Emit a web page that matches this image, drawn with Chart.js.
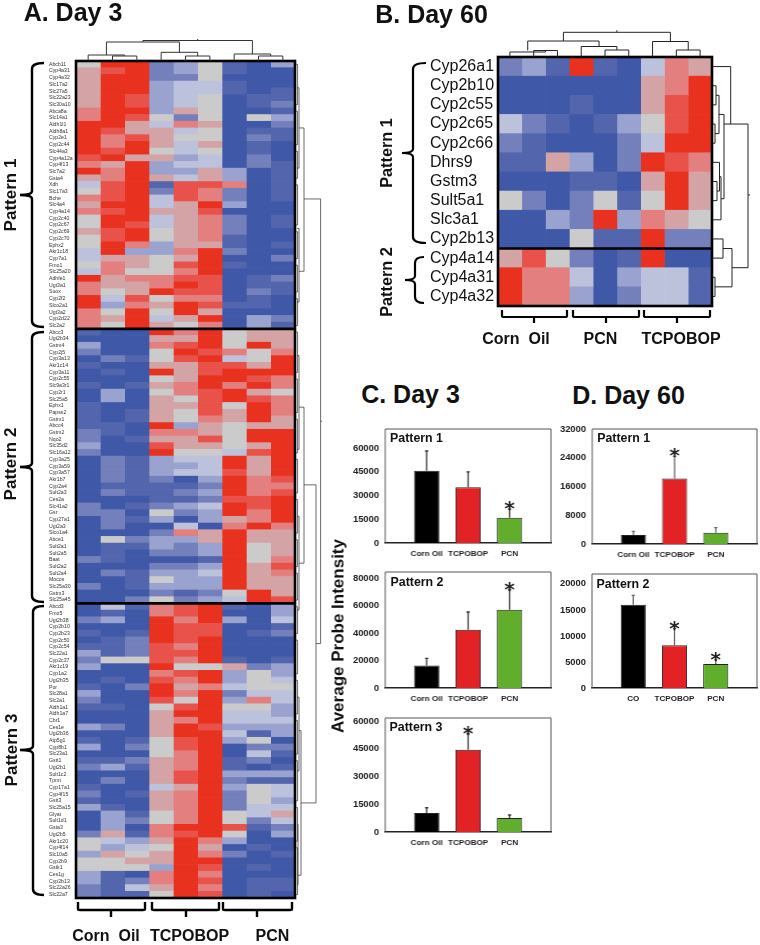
<!DOCTYPE html>
<html><head><meta charset="utf-8">
<script src="https://cdn.jsdelivr.net/npm/chart.js@4"></script>
<style>
html,body{margin:0;padding:0;background:#fff;width:760px;height:945px;overflow:hidden}
canvas{position:absolute;filter:blur(.35px)}
.t{position:absolute;font:bold 16px "Liberation Sans",Arial,sans-serif;color:#111;white-space:nowrap;line-height:1}
</style></head><body>
<script>
// ---------- Panel A data (colour level 0 = deep blue … 5 = grey … 9 = red) ----------
const genesA1=["Abcb11","Cyp4a31","Cyp4a32","Slc17a2","Slc27a5","Slc22a23","Slc30a10","Abca8a","Slc14a1","Aldh1l1","Aldh8a1","Cyp2e1","Cyp2c44","Slc44a3","Cyp4a12a","Cyp4f13","Slc7a2","Gsta4","Xdh","Slc17a3","Bche","Slc4a4","Cyp4a14","Cyp2c40","Cyp2c67","Cyp2c69","Cyp2c70","Ephx2","Akr1c18","Cyp7a1","Fmo1","Slc25a20","Adhfe1","Ugt3a1","Suox","Cyp2f2","Slco2a1","Ugt3a2","Cyp2d22","Slc2a2"];
const genesA2=["Abcc3","Ugt2b34","Gstm4","Cyp2j5","Cyp3a13","Akr1c14","Cyp3a11","Cyp2c55","Slc9a3r1","Cyp2r1","Slc25a5","Ephx1","Papss2","Gstm1","Abcc4","Gstm2","Nqo2","Slc35d2","Slc16a12","Cyp3a25","Cyp3a59","Cyp3a57","Akr1b7","Cyp2a4","Sult2a3","Ces2a","Slc41a2","Gsr","Cyp27a1","Ugt2a3","Slco1a4","Abce1","Sult2a1","Sult2a5","Baat","Sult2a2","Sult2a4","Mocos","Slc25a30","Gstm3","Slc25a45"];
const genesA3=["Abcd3","Fmo5","Ugt2b38","Cyp2b10","Cyp2b23","Cyp2c50","Cyp2c54","Slc22a1","Cyp2c37","Akr1c19","Cyp1a2","Ugt2b35","Por","Slc28a1","Slc2a1","Aldh1a1","Aldh1a7","Cbr1","Ces1e","Ugt2b36","Atp5g1","Cyp8b1","Slc23a1","Gstt1","Ugt2b1","Sult1c2","Tpmt","Cyp17a1","Cyp4f15","Gstt3","Slc25a15","Glyat","Sult1d1","Gsta3","Ugt2b5","Akr1c20","Cyp4f14","Slc10a5","Cyp2b9","Gstk1","Ces1g","Cyp2b13","Slc22a26","Slc22a7"];
const levelsA1=[[5,9,9,2,3,5,1,0,3],[6,8,9,2,3,5,1,0,0],[6,9,9,2,2,5,0,0,0],[6,9,9,3,4,4,1,0,0],[6,9,9,3,4,4,1,0,1],[6,9,8,3,4,5,0,1,1],[6,9,8,3,4,5,0,1,2],[7,9,9,3,6,5,0,0,1],[7,9,8,5,2,5,0,5,3],[9,9,6,4,7,6,0,0,2],[9,8,6,6,4,5,0,1,1],[9,7,8,6,5,5,0,2,1],[9,7,9,6,4,6,0,1,0],[9,8,9,5,4,5,0,1,0],[8,9,6,6,3,4,0,2,0],[7,6,9,3,4,4,0,2,1],[9,7,9,3,3,6,3,0,1],[6,7,9,6,4,6,3,0,1],[4,8,9,1,8,8,7,0,1],[5,8,9,2,8,7,2,0,1],[7,8,9,4,8,7,2,0,1],[6,9,9,4,6,9,3,0,0],[7,8,9,6,6,8,0,0,0],[5,9,9,4,6,7,2,0,1],[5,9,8,4,6,7,2,0,1],[6,8,9,5,6,7,2,0,0],[5,8,9,5,6,7,1,0,0],[5,9,7,3,6,6,1,0,1],[4,9,3,3,7,9,2,0,0],[4,6,6,5,6,9,0,0,2],[5,7,6,5,8,9,1,0,0],[4,7,5,5,7,9,0,0,0],[9,6,7,7,8,8,0,1,2],[7,6,6,7,9,8,0,1,1],[7,5,6,9,8,8,0,2,1],[9,4,8,5,7,7,0,1,0],[9,3,7,6,9,8,1,1,0],[7,5,9,5,9,6,0,0,0],[7,6,9,4,6,9,0,3,2],[7,5,9,6,5,7,0,3,1]];
const levelsA2=[[1,0,0,9,7,9,5,6,6],[0,0,0,6,6,9,5,6,6],[3,0,0,7,8,9,5,9,6],[2,0,0,5,9,8,7,5,7],[0,2,1,5,8,9,4,5,9],[1,0,0,6,6,8,8,6,9],[0,1,0,9,6,8,9,9,9],[0,0,0,5,6,9,9,8,7],[1,0,1,6,7,9,7,9,7],[0,3,0,5,7,8,9,6,5],[0,3,0,6,5,8,9,8,7],[1,0,0,6,6,8,5,9,7],[1,0,1,6,5,8,6,9,7],[1,0,1,6,5,7,6,9,6],[1,1,0,9,3,6,5,6,6],[2,1,0,7,7,6,5,9,9],[2,0,1,6,6,8,5,9,9],[3,0,0,8,6,6,5,6,9],[2,0,0,9,5,5,4,8,9],[0,2,1,3,4,4,9,6,9],[0,2,1,3,3,4,9,6,9],[0,2,1,3,4,4,8,6,9],[0,2,1,2,0,3,9,7,8],[0,1,1,1,1,2,9,7,7],[0,2,1,1,2,3,9,7,8],[0,0,0,1,1,2,8,8,9],[2,0,1,2,3,4,9,8,9],[2,2,0,5,2,3,9,7,9],[0,2,1,3,0,3,6,7,9],[0,2,0,0,4,0,7,9,7],[0,0,0,2,7,6,9,6,6],[0,5,2,3,3,6,9,6,6],[0,1,1,3,2,3,9,5,6],[0,1,0,2,2,3,9,5,6],[2,1,0,0,0,1,9,5,7],[0,0,0,2,2,3,9,6,8],[0,2,1,3,3,4,9,6,7],[0,0,1,5,3,3,9,6,6],[2,0,1,3,3,3,9,6,6],[0,0,0,2,1,2,5,9,6],[0,0,2,5,2,3,4,9,8]];
const levelsA3=[[0,4,1,7,8,9,1,0,3],[0,1,0,7,8,9,0,0,3],[2,3,0,9,7,9,3,0,4],[0,0,0,9,8,8,0,0,1],[1,0,1,9,8,8,0,1,2],[0,1,2,9,8,9,0,0,0],[1,1,2,8,7,9,0,0,0],[3,1,2,8,8,9,0,0,0],[2,5,5,8,7,9,1,0,1],[3,0,0,9,5,5,6,2,3],[0,0,0,7,8,9,3,5,3],[0,1,0,8,7,9,3,5,4],[1,0,2,9,6,7,4,5,5],[3,0,0,9,7,9,2,4,4],[2,0,0,8,5,9,3,7,4],[1,1,0,5,8,9,5,5,3],[0,0,0,6,9,9,4,4,3],[0,0,0,6,7,9,4,4,4],[3,2,0,6,9,8,3,3,3],[0,0,0,6,9,9,4,1,3],[1,0,1,5,8,9,3,5,0],[3,0,2,5,8,9,0,2,2],[0,0,0,5,7,9,0,4,1],[1,1,2,6,7,9,1,2,0],[2,3,1,6,7,9,1,0,1],[0,0,0,6,8,9,3,3,3],[0,2,0,6,8,9,2,1,1],[1,0,0,4,6,9,3,5,4],[2,0,1,6,7,9,2,5,4],[1,0,0,6,7,9,2,5,3],[3,1,0,6,7,9,2,4,4],[0,3,1,5,7,9,5,4,6],[0,3,2,5,7,9,5,2,4],[0,3,0,7,9,9,8,1,2],[2,6,1,7,8,9,5,0,3],[5,4,3,6,9,7,3,0,0],[5,3,4,5,9,6,0,1,0],[3,6,5,6,9,7,2,0,1],[5,5,6,6,9,9,0,0,0],[5,5,5,3,9,8,0,1,0],[3,1,0,7,9,7,0,0,0],[3,1,2,7,9,8,0,1,1],[2,1,4,6,9,7,0,1,1],[2,1,1,5,9,8,0,1,0]];
// ---------- Panel B data ----------
const genesB=["Cyp26a1","Cyp2b10","Cyp2c55","Cyp2c65","Cyp2c66","Dhrs9","Gstm3","Sult5a1","Slc3a1","Cyp2b13","Cyp4a14","Cyp4a31","Cyp4a32"];
const levelsB=[[2,3,1,9,1,0,4,7,6],[0,0,0,0,0,0,6,7,9],[0,0,0,1,0,0,6,8,9],[4,2,1,0,1,3,5,8,9],[2,1,0,0,0,2,4,9,9],[1,1,6,3,0,2,9,8,7],[0,0,0,1,1,0,6,9,6],[5,2,0,2,5,1,5,9,6],[0,0,3,2,9,3,7,6,5],[0,0,0,5,1,1,9,2,2],[6,8,5,2,0,1,9,0,0],[9,7,7,4,0,3,4,4,1],[9,7,7,3,0,2,4,4,1]];
// Dendrogram merges: [branch A position, branch B position, height A, height B, merge height]
const treeTopA=[[1.5,2.5,0,0,5],[0.5,2,0,5,6],[4.5,5.5,0,0,5],[3.5,5,0,5,8.7],[7.5,8.5,0,0,5],[6.5,8,0,5,7],[1.25,4.25,6,8.7,19],[2.75,7.25,19,7,20.5]];
const treeTopB=[[1.5,2.5,0,0,6.5],[0.5,2,0,6.5,5],[4.5,5.5,0,0,7],[3.5,5,0,7,10.5],[7.5,8.5,0,0,7],[6.5,8,0,7,15.5],[1.25,4.25,6.5,10.5,16],[2.75,7.25,16,15.5,24.7]];
const treeSideA=[[10,31.4,3,3,8],[20.6,87,8,20,24.6],[63.3,110.8,8,5,20],[51.7,75,3,3,8],[100,121.6,3,2,5],[4,16,1,1,3],[25,36,1,1,3],[44,58,1,1,3],[68,82,1,1,3],[95,106,1,1,3],[114,123,1,1,2]];
const leavesSideA=[[0,6],[7,12],[13,17],[18,24],[25,29],[30,34],[35,39],[40,46],[47,52],[53,58],[59,64],[65,70],[71,75],[76,80],[81,85],[86,91],[92,97],[98,103],[104,110],[111,116],[117,124]];
const treeSideB=[[1.5,2.5,0,0,3],[3.5,4.5,0,0,2],[2,4,3,2,6],[6.5,7.5,0,0,4],[5.5,7,0,4,6.5],[6.25,8.5,6.5,0,8],[3,7.4,6,8,11],[0.5,3.5,0,11,17.7],[9.5,10.5,0,0,10],[11.5,12.5,0,0,2],[10,12,10,2,19],[3.5,11,17.7,19,35]];
// ---------- Bar panels ----------
const barCategories=["Corn Oil","TCPOBOP","PCN"];
const barCategoriesD2=["CO","TCPOBOP","PCN"];
const barColors=["#000000","#E32226","#60AE2B"];
const c1Means=[45700,35200,15900], c1Tops=[58100,44900,21400], c1Stars=[0,0,1], c1Ticks=[0,15000,30000,45000,60000];
const c2Means=[16400,42400,57000], c2Tops=[21500,55300,71500], c2Stars=[0,0,1], c2Ticks=[0,20000,40000,60000,80000];
const c3Means=[10250,44500,7600], c3Tops=[13100,53100,9200], c3Stars=[0,1,0], c3Ticks=[0,15000,30000,45000,60000];
const d1Means=[2500,18200,3150], d1Tops=[3500,24400,4550], d1Stars=[0,1,0], d1Ticks=[0,8000,16000,24000,32000];
const d2Means=[16000,8200,4600], d2Tops=[17800,11400,5400], d2Stars=[0,1,1], d2Ticks=[0,5000,10000,15000,20000];

const SANS='"Liberation Sans",Arial,sans-serif';
Chart.defaults.font.family=SANS;
Chart.defaults.animation=false;

const ramp=[[63,88,167],[82,101,173],[116,128,187],[154,163,207],[189,194,220],[204,203,204],[212,163,165],[227,127,127],[233,82,74],[232,50,31]];
const colourOf=l=>{const c=ramp[l];return `rgb(${c[0]},${c[1]},${c[2]})`;};

function canvas(l,t,w,h){const c=document.createElement('canvas');c.width=w;c.height=h;c.style.left=l+'px';c.style.top=t+'px';c.style.width=w+'px';c.style.height=h+'px';document.body.appendChild(c);return c;}
function label(s,cx,cy,size,rot){const d=document.createElement('div');d.className='t';d.textContent=s;d.style.fontSize=size+'px';d.style.left=cx+'px';d.style.top=cy+'px';d.style.transform=`translate(-50%,-50%)${rot?' rotate(-90deg)':''}`;document.body.appendChild(d);}

function drawMerges(ctx,merges,pt){
  merges.forEach(([a,b,ha,hb,h])=>{const p=[pt(a,ha),pt(a,h),pt(b,h),pt(b,hb)];ctx.beginPath();ctx.moveTo(...p[0]);p.slice(1).forEach(q=>ctx.lineTo(...q));ctx.stroke();});
}
function brace(ctx,xArm,xSpine,xTip,y0,yMid,y1){
  const r=4;ctx.beginPath();
  ctx.moveTo(xArm,y0);ctx.quadraticCurveTo(xSpine,y0,xSpine,y0+r*1.5);
  ctx.lineTo(xSpine,yMid-r);ctx.quadraticCurveTo(xSpine,yMid,xTip,yMid);
  ctx.quadraticCurveTo(xSpine,yMid,xSpine,yMid+r);
  ctx.lineTo(xSpine,y1-r*1.5);ctx.quadraticCurveTo(xSpine,y1,xArm,y1);ctx.stroke();
}
function footBracket(ctx,x0,x1,xs,y0,y1,y2){
  ctx.beginPath();ctx.moveTo(x0,y0);ctx.lineTo(x0,y1-1);ctx.quadraticCurveTo(x0,y1,x0+2,y1);ctx.lineTo(x1-2,y1);ctx.quadraticCurveTo(x1,y1,x1,y1-1);ctx.lineTo(x1,y0);ctx.moveTo(xs,y1);ctx.lineTo(xs,y2);ctx.stroke();
}

function heatmap(cv,genes,levels,pad,yWidth,fontSize,fontColor,dividers,frameW,decor){
  const cols=levels[0].map((_,i)=>({data:genes.map(()=>1),backgroundColor:levels.map(r=>colourOf(r[i])),borderWidth:0,barPercentage:1,categoryPercentage:1}));
  return new Chart(cv,{type:'bar',data:{labels:genes,datasets:cols},options:{
    indexAxis:'y',responsive:false,devicePixelRatio:1,layout:{padding:pad},
    plugins:{legend:{display:false},tooltip:{enabled:false}},
    scales:{
      x:{display:false,type:'linear',stacked:true,min:0,max:9},
      y:{stacked:true,grid:{display:false},border:{display:false},
         afterFit:s=>{s.width=yWidth;s.paddingTop=0;s.paddingBottom=0;},
         ticks:{autoSkip:false,crossAlign:'far',padding:0,color:fontColor,font:{size:fontSize,family:SANS}}}
    }},
    plugins:[{id:'decor',afterDatasetsDraw(ch){
      const c=ch.ctx,a=ch.chartArea,x=ch.scales.x,y=ch.scales.y;
      c.save();c.strokeStyle='#000';c.lineWidth=frameW;
      c.strokeRect(a.left,a.top,a.right-a.left,a.bottom-a.top);
      dividers.forEach(r=>{const py=y.getPixelForValue(r-0.5);c.beginPath();c.moveTo(a.left,py);c.lineTo(a.right,py);c.stroke();});
      c.restore();c.save();decor(c,a,x,y);c.restore();
    }}]
  });
}

// ---------- Panel A ----------
heatmap(canvas(0,0,335,945),[...genesA1,...genesA2,...genesA3],[...levelsA1,...levelsA2,...levelsA3],
 {left:49,top:61,right:40,bottom:47},27,5.2,'#333',[genesA1.length,genesA1.length+genesA2.length],2.6,(c,a,x,y)=>{
  c.strokeStyle='#333';c.lineWidth=1;
  const top=(p,h)=>[x.getPixelForValue(p),a.top-h];
  drawMerges(c,treeTopA,top);
  c.beginPath();c.moveTo(...top(5,20.5));c.lineTo(...top(5,22));c.stroke();
  const side=(p,h)=>[a.right+1+h,y.getPixelForValue(p-0.5)];
  c.lineWidth=.8;c.strokeStyle='#444';
  drawMerges(c,treeSideA,side);
  leavesSideA.forEach(([p,q])=>drawMerges(c,[[p+.5,q+.5,0,0,1.6]],side));
  c.beginPath();c.moveTo(...side(53.8,24.6));c.lineTo(...side(53.8,26));c.stroke();
  c.strokeStyle='#000';c.lineWidth=2.4;
  brace(c,44,32,20,63,195,327);brace(c,44,32,20,332,467,602);brace(c,44,33,20,606,750,895);
  footBracket(c,78,145,111,902,910,917);footBracket(c,152,219,186,902,910,917);footBracket(c,223,292,257,902,910,917);
 });

// ---------- Panel B ----------
heatmap(canvas(370,0,390,345),genesB,levelsB,{left:60,top:57,right:48,bottom:39},68,16,'#111',[10],2.6,(c,a,x,y)=>{
  c.strokeStyle='#222';c.lineWidth=1;
  const top=(p,h)=>[x.getPixelForValue(p),a.top-h];
  drawMerges(c,treeTopB,top);
  c.beginPath();c.moveTo(...top(5,24.7));c.lineTo(...top(5,26.7));c.stroke();
  const side=(p,h)=>[a.right+1+h,y.getPixelForValue(p-0.5)];
  drawMerges(c,treeSideB,side);
  c.beginPath();c.moveTo(...side(7.2,35));c.lineTo(...side(7.2,37));c.stroke();
  c.setTransform(1,0,0,1,-370,0);
  c.strokeStyle='#000';c.lineWidth=2.2;
  brace(c,426,413,402,63,153,243);brace(c,424,415,405,257,280,303);
  footBracket(c,502,567,534,310,317,323);footBracket(c,573,639,606,310,317,323);footBracket(c,644,710,677,310,317,323);
 });

// ---------- Bar panels ----------
function barPanel(fL,fT,fR,base,cats,means,tops,stars,ticks,yMax,errColor){
  const L=fL-42,T=fT-3;
  const labels=['',...cats,''];
  const cv=canvas(L,T,fR-L+3,base-T+24);
  new Chart(cv,{type:'bar',data:{labels,datasets:[{data:[null,...means,null],backgroundColor:['transparent',...barColors,'transparent'],borderColor:'#222',borderWidth:1,barPercentage:.61,categoryPercentage:1}]},options:{
    responsive:false,devicePixelRatio:1,layout:{padding:{top:3,right:3,left:0,bottom:0}},
    plugins:{legend:{display:false},tooltip:{enabled:false}},
    scales:{
      x:{offset:false,grid:{display:false,drawTicks:true,tickLength:2,tickColor:'#222'},border:{color:'#222',width:1.4},
         afterFit:s=>{s.height=24;s.paddingLeft=0;s.paddingRight=0;},
         ticks:{autoSkip:false,maxRotation:0,padding:4,color:'#222',font:{size:8.1,weight:'bold',family:SANS}}},
      y:{min:0,max:yMax,grid:{display:false,drawTicks:false},border:{display:false},
         afterBuildTicks:s=>{s.ticks=ticks.map(v=>({value:v}));},
         afterFit:s=>{s.width=42;s.paddingTop=0;s.paddingBottom=0;},
         ticks:{padding:6,color:'#222',callback:v=>String(v),font:{size:9.4,weight:'bold',family:SANS}}}
    }},
    plugins:[{id:'err',afterDatasetsDraw(ch){
      const c=ch.ctx,a=ch.chartArea,x=ch.scales.x,y=ch.scales.y;
      c.save();c.strokeStyle='#555';c.lineWidth=1;
      c.beginPath();c.moveTo(a.left,a.bottom);c.lineTo(a.left,a.top);c.lineTo(a.right,a.top);c.lineTo(a.right,a.bottom);c.stroke();
      c.strokeStyle=errColor;c.lineWidth=1.3;
      means.forEach((m,i)=>{const px=x.getPixelForValue(i+1),p0=y.getPixelForValue(m),p1=y.getPixelForValue(tops[i]);
        c.beginPath();c.moveTo(px,p0);c.lineTo(px,p1);c.moveTo(px-1.6,p1);c.lineTo(px+1.6,p1);c.stroke();
        if(stars[i]){c.fillStyle='#222';c.font='bold 20px "DejaVu Sans"';c.textAlign='center';c.textBaseline='alphabetic';c.fillText('*',px,p1+6);}
      });
      c.restore();
    }}]
  });
}
barPanel(385.3,429,551,543.3,barCategories,c1Means,c1Tops,c1Stars,c1Ticks,72000,'#333');
barPanel(385.3,572.3,551,688.3,barCategories,c2Means,c2Tops,c2Stars,c2Ticks,84400,'#333');
barPanel(385.3,718.3,551,832.3,barCategories,c3Means,c3Tops,c3Stars,c3Ticks,61620,'#333');
barPanel(592.3,428.7,757,544.3,barCategories,d1Means,d1Tops,d1Stars,d1Ticks,32000,'#666');
barPanel(592,574,757,688,barCategoriesD2,d2Means,d2Tops,d2Stars,d2Ticks,21900,'#666');

// ---------- Text ----------
label('A. Day 3',73,12.4,25);
label('B. Day 60',431.5,14.4,25);
label('C. Day 3',410.5,394,25);
label('D. Day 60',628.5,395.4,25);
label('Pattern 1',10,195,17,1);label('Pattern 2',10,464,17,1);label('Pattern 3',11,750,17,1);
label('Corn\u00a0\u00a0Oil',106,936,16);label('TCPOBOP',189.5,936,16);label('PCN',272.5,936,16);
label('Pattern 1',386,153,16.3,1);label('Pattern 2',386,282,16.3,1);
label('Corn\u00a0\u00a0Oil',516,339,16);label('PCN',600.5,339,16);label('TCPOBOP',681,339,16);
label('Average Probe Intensity',338,636,17,1);
label('Pattern 1',416.5,438,12.4);label('Pattern 2',417,582,12.4);label('Pattern 3',416,727,12.4);
label('Pattern 1',623.7,438,12.4);label('Pattern 2',623,584,12.4);
</script>
</body></html>
